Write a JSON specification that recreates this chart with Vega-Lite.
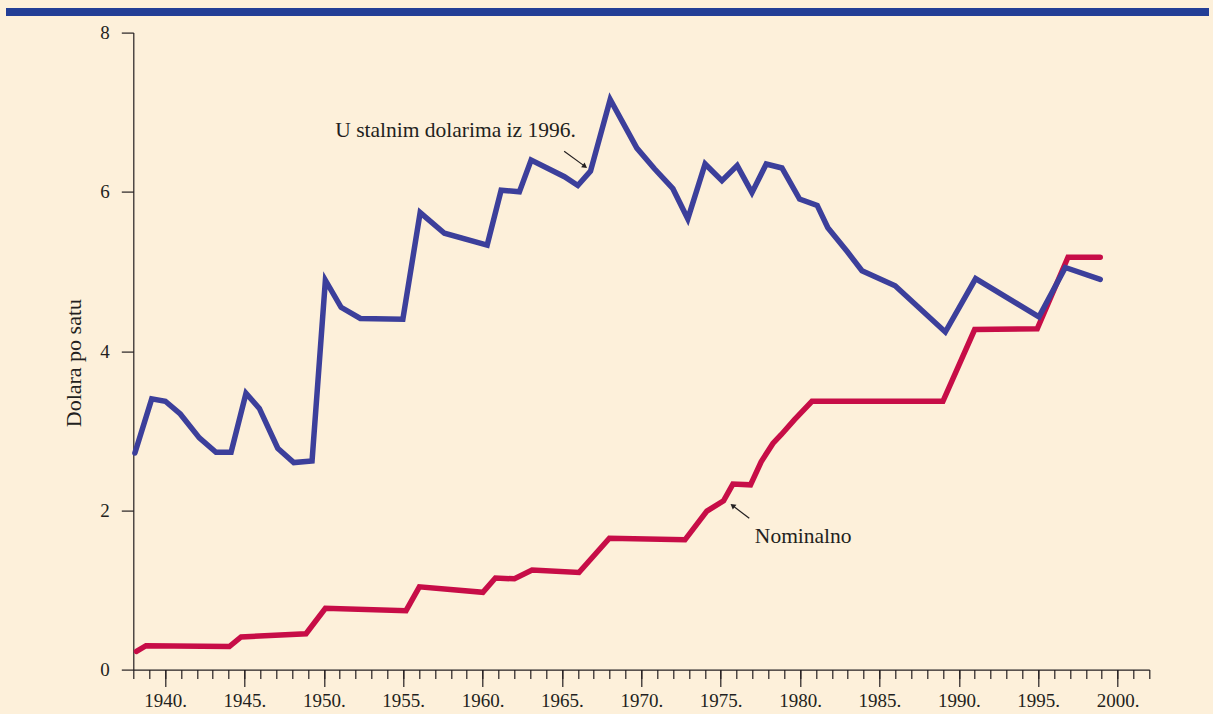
{
  "$schema": "https://vega.github.io/schema/vega-lite/v6.json",
  "background": "#fdf0da",
  "padding": {"left": 5, "right": 5, "top": 7, "bottom": 3},
  "spacing": 16.6,
  "bounds": "flush",
  "config": {
    "view": {"stroke": null},
    "font": "Liberation Serif",
    "axis": {"grid": false, "domainColor": "#231f20", "tickColor": "#231f20", "labelColor": "#231f20", "titleColor": "#231f20", "labelFont": "Liberation Serif", "titleFont": "Liberation Serif", "domainWidth": 1.2, "tickWidth": 1.2, "labelFontSize": 19, "titleFontSize": 22, "titleFontWeight": "normal"}
  },
  "datasets": {
    "wages": [
      {"year": 1938.2, "value": 0.23, "series": "Nominalno"},
      {"year": 1938.8, "value": 0.30, "series": "Nominalno"},
      {"year": 1944.05, "value": 0.29, "series": "Nominalno"},
      {"year": 1944.79, "value": 0.41, "series": "Nominalno"},
      {"year": 1948.88, "value": 0.45, "series": "Nominalno"},
      {"year": 1950.1, "value": 0.77, "series": "Nominalno"},
      {"year": 1955.18, "value": 0.74, "series": "Nominalno"},
      {"year": 1956.02, "value": 1.04, "series": "Nominalno"},
      {"year": 1960.02, "value": 0.97, "series": "Nominalno"},
      {"year": 1960.81, "value": 1.15, "series": "Nominalno"},
      {"year": 1962.01, "value": 1.14, "series": "Nominalno"},
      {"year": 1963.12, "value": 1.25, "series": "Nominalno"},
      {"year": 1966.07, "value": 1.22, "series": "Nominalno"},
      {"year": 1967.99, "value": 1.65, "series": "Nominalno"},
      {"year": 1972.75, "value": 1.63, "series": "Nominalno"},
      {"year": 1974.13, "value": 1.99, "series": "Nominalno"},
      {"year": 1975.18, "value": 2.12, "series": "Nominalno"},
      {"year": 1975.77, "value": 2.33, "series": "Nominalno"},
      {"year": 1976.88, "value": 2.32, "series": "Nominalno"},
      {"year": 1977.55, "value": 2.61, "series": "Nominalno"},
      {"year": 1978.29, "value": 2.84, "series": "Nominalno"},
      {"year": 1978.81, "value": 2.95, "series": "Nominalno"},
      {"year": 1979.65, "value": 3.14, "series": "Nominalno"},
      {"year": 1980.75, "value": 3.37, "series": "Nominalno"},
      {"year": 1989.0, "value": 3.37, "series": "Nominalno"},
      {"year": 1991.0, "value": 4.27, "series": "Nominalno"},
      {"year": 1994.94, "value": 4.28, "series": "Nominalno"},
      {"year": 1996.88, "value": 5.18, "series": "Nominalno"},
      {"year": 1998.91, "value": 5.18, "series": "Nominalno"},
      {"year": 1938.1, "value": 2.72, "series": "Realno"},
      {"year": 1939.16, "value": 3.40, "series": "Realno"},
      {"year": 1940.02, "value": 3.37, "series": "Realno"},
      {"year": 1940.96, "value": 3.21, "series": "Realno"},
      {"year": 1942.16, "value": 2.91, "series": "Realno"},
      {"year": 1943.21, "value": 2.73, "series": "Realno"},
      {"year": 1944.16, "value": 2.73, "series": "Realno"},
      {"year": 1945.1, "value": 3.47, "series": "Realno"},
      {"year": 1945.94, "value": 3.28, "series": "Realno"},
      {"year": 1947.1, "value": 2.78, "series": "Realno"},
      {"year": 1948.11, "value": 2.60, "series": "Realno"},
      {"year": 1949.26, "value": 2.62, "series": "Realno"},
      {"year": 1950.1, "value": 4.89, "series": "Realno"},
      {"year": 1951.09, "value": 4.55, "series": "Realno"},
      {"year": 1952.3, "value": 4.41, "series": "Realno"},
      {"year": 1954.98, "value": 4.40, "series": "Realno"},
      {"year": 1956.07, "value": 5.74, "series": "Realno"},
      {"year": 1957.6, "value": 5.48, "series": "Realno"},
      {"year": 1960.29, "value": 5.33, "series": "Realno"},
      {"year": 1961.17, "value": 6.02, "series": "Realno"},
      {"year": 1962.32, "value": 6.00, "series": "Realno"},
      {"year": 1963.06, "value": 6.40, "series": "Realno"},
      {"year": 1965.16, "value": 6.19, "series": "Realno"},
      {"year": 1966.0, "value": 6.08, "series": "Realno"},
      {"year": 1966.8, "value": 6.26, "series": "Realno"},
      {"year": 1968.04, "value": 7.16, "series": "Realno"},
      {"year": 1969.72, "value": 6.55, "series": "Realno"},
      {"year": 1970.83, "value": 6.29, "series": "Realno"},
      {"year": 1971.99, "value": 6.04, "series": "Realno"},
      {"year": 1972.93, "value": 5.66, "series": "Realno"},
      {"year": 1974.02, "value": 6.35, "series": "Realno"},
      {"year": 1975.08, "value": 6.14, "series": "Realno"},
      {"year": 1976.04, "value": 6.33, "series": "Realno"},
      {"year": 1976.97, "value": 5.99, "series": "Realno"},
      {"year": 1977.87, "value": 6.35, "series": "Realno"},
      {"year": 1978.86, "value": 6.30, "series": "Realno"},
      {"year": 1979.97, "value": 5.91, "series": "Realno"},
      {"year": 1981.08, "value": 5.83, "series": "Realno"},
      {"year": 1981.75, "value": 5.55, "series": "Realno"},
      {"year": 1982.97, "value": 5.25, "series": "Realno"},
      {"year": 1983.9, "value": 5.01, "series": "Realno"},
      {"year": 1985.99, "value": 4.82, "series": "Realno"},
      {"year": 1989.15, "value": 4.24, "series": "Realno"},
      {"year": 1991.06, "value": 4.91, "series": "Realno"},
      {"year": 1995.05, "value": 4.43, "series": "Realno"},
      {"year": 1996.71, "value": 5.05, "series": "Realno"},
      {"year": 1998.91, "value": 4.90, "series": "Realno"}
    ],
    "labels": [
      {"year": 1958.3, "value": 6.76, "text": "U stalnim dolarima iz 1996."},
      {"year": 1980.2, "value": 1.67, "text": "Nominalno"}
    ],
    "arrowReal": [{"x1": 1965.14, "y1": 6.51, "x2": 1966.45, "y2": 6.32}],
    "arrowNom": [{"x1": 1976.8, "y1": 1.90, "x2": 1975.75, "y2": 2.06}],
    "minor": [
      {"year": 1938}, {"year": 1939}, {"year": 1940}, {"year": 1941}, {"year": 1942}, {"year": 1943}, {"year": 1944}, {"year": 1945}, {"year": 1946}, {"year": 1947},
      {"year": 1948}, {"year": 1949}, {"year": 1950}, {"year": 1951}, {"year": 1952}, {"year": 1953}, {"year": 1954}, {"year": 1955}, {"year": 1956}, {"year": 1957},
      {"year": 1958}, {"year": 1959}, {"year": 1960}, {"year": 1961}, {"year": 1962}, {"year": 1963}, {"year": 1964}, {"year": 1965}, {"year": 1966}, {"year": 1967},
      {"year": 1968}, {"year": 1969}, {"year": 1970}, {"year": 1971}, {"year": 1972}, {"year": 1973}, {"year": 1974}, {"year": 1975}, {"year": 1976}, {"year": 1977},
      {"year": 1978}, {"year": 1979}, {"year": 1980}, {"year": 1981}, {"year": 1982}, {"year": 1983}, {"year": 1984}, {"year": 1985}, {"year": 1986}, {"year": 1987},
      {"year": 1988}, {"year": 1989}, {"year": 1990}, {"year": 1991}, {"year": 1992}, {"year": 1993}, {"year": 1994}, {"year": 1995}, {"year": 1996}, {"year": 1997},
      {"year": 1998}, {"year": 1999}, {"year": 2000}, {"year": 2001}, {"year": 2002}
    ],
    "bar": [{"k": 1}]
  },
  "vconcat": [
    {
      "width": 1203,
      "height": 8,
      "view": {"fill": "#233e96", "stroke": null},
      "data": {"name": "bar"},
      "mark": {"type": "rule", "opacity": 0},
      "encoding": {}
    },
    {
      "bounds": "flush",
      "spacing": 20.3,
      "hconcat": [
        {
          "width": 107,
          "height": 637,
          "data": {"name": "bar"},
          "mark": {"type": "rule", "opacity": 0},
          "encoding": {}
        },
        {
          "width": 1016,
          "height": 637,
          "resolve": {"axis": {"x": "independent", "y": "independent"}},
          "layer": [
            {
              "data": {"name": "minor"},
              "mark": {"type": "point", "opacity": 0},
              "encoding": {
                "x": {"field": "year", "type": "quantitative", "scale": {"domain": [1938, 2002], "nice": false, "zero": false},
                  "axis": {"orient": "bottom", "values": {"expr": "sequence(1938, 2003)"}, "labels": false, "tickSize": 9, "domain": false, "title": null}},
                "y": {"datum": 0, "type": "quantitative", "scale": {"domain": [0, 8], "nice": false}, "axis": null}
              }
            },
            {
              "data": {"name": "wages"},
              "transform": [{"filter": "datum.series === 'Nominalno'"}],
              "mark": {"type": "line", "color": "#c70d47", "strokeWidth": 5.5, "strokeCap": "round"},
              "encoding": {
                "x": {"field": "year", "type": "quantitative",
                  "axis": {"orient": "bottom", "values": [1940, 1945, 1950, 1955, 1960, 1965, 1970, 1975, 1980, 1985, 1990, 1995, 2000], "format": "d", "labelExpr": "datum.label + '.'", "tickSize": 17, "labelPadding": 5, "title": null, "labelFlush": false}},
                "y": {"field": "value", "type": "quantitative",
                  "axis": {"orient": "left", "values": [0, 2, 4, 6, 8], "format": "d", "tickSize": 12, "labelPadding": 12, "title": "Dolara po satu", "titlePadding": 14, "titleY": 330}}
              }
            },
            {
              "data": {"name": "wages"},
              "transform": [{"filter": "datum.series === 'Realno'"}],
              "mark": {"type": "line", "color": "#3c3f9b", "strokeWidth": 5.5, "strokeCap": "round"},
              "encoding": {
                "x": {"field": "year", "type": "quantitative", "axis": null},
                "y": {"field": "value", "type": "quantitative", "axis": null}
              }
            },
            {
              "data": {"name": "labels"},
              "mark": {"type": "text", "font": "Liberation Serif", "fontSize": 21.5, "color": "#231f20"},
              "encoding": {
                "x": {"field": "year", "type": "quantitative", "axis": null},
                "y": {"field": "value", "type": "quantitative", "axis": null},
                "text": {"field": "text"}
              }
            },
            {
              "data": {"name": "arrowReal"},
              "mark": {"type": "rule", "color": "#231f20", "strokeWidth": 1.2},
              "encoding": {"x": {"field": "x1", "type": "quantitative", "axis": null}, "y": {"field": "y1", "type": "quantitative", "axis": null}, "x2": {"field": "x2"}, "y2": {"field": "y2"}}
            },
            {
              "data": {"name": "arrowReal"},
              "mark": {"type": "point", "shape": "triangle-right", "filled": true, "color": "#231f20", "opacity": 1, "size": 35, "angle": 36},
              "encoding": {"x": {"field": "x2", "type": "quantitative", "axis": null}, "y": {"field": "y2", "type": "quantitative", "axis": null}}
            },
            {
              "data": {"name": "arrowNom"},
              "mark": {"type": "rule", "color": "#231f20", "strokeWidth": 1.2},
              "encoding": {"x": {"field": "x1", "type": "quantitative", "axis": null}, "y": {"field": "y1", "type": "quantitative", "axis": null}, "x2": {"field": "x2"}, "y2": {"field": "y2"}}
            },
            {
              "data": {"name": "arrowNom"},
              "mark": {"type": "point", "shape": "triangle-right", "filled": true, "color": "#231f20", "opacity": 1, "size": 35, "angle": 218},
              "encoding": {"x": {"field": "x2", "type": "quantitative", "axis": null}, "y": {"field": "y2", "type": "quantitative", "axis": null}}
            }
          ]
        }
      ]
    }
  ]
}
